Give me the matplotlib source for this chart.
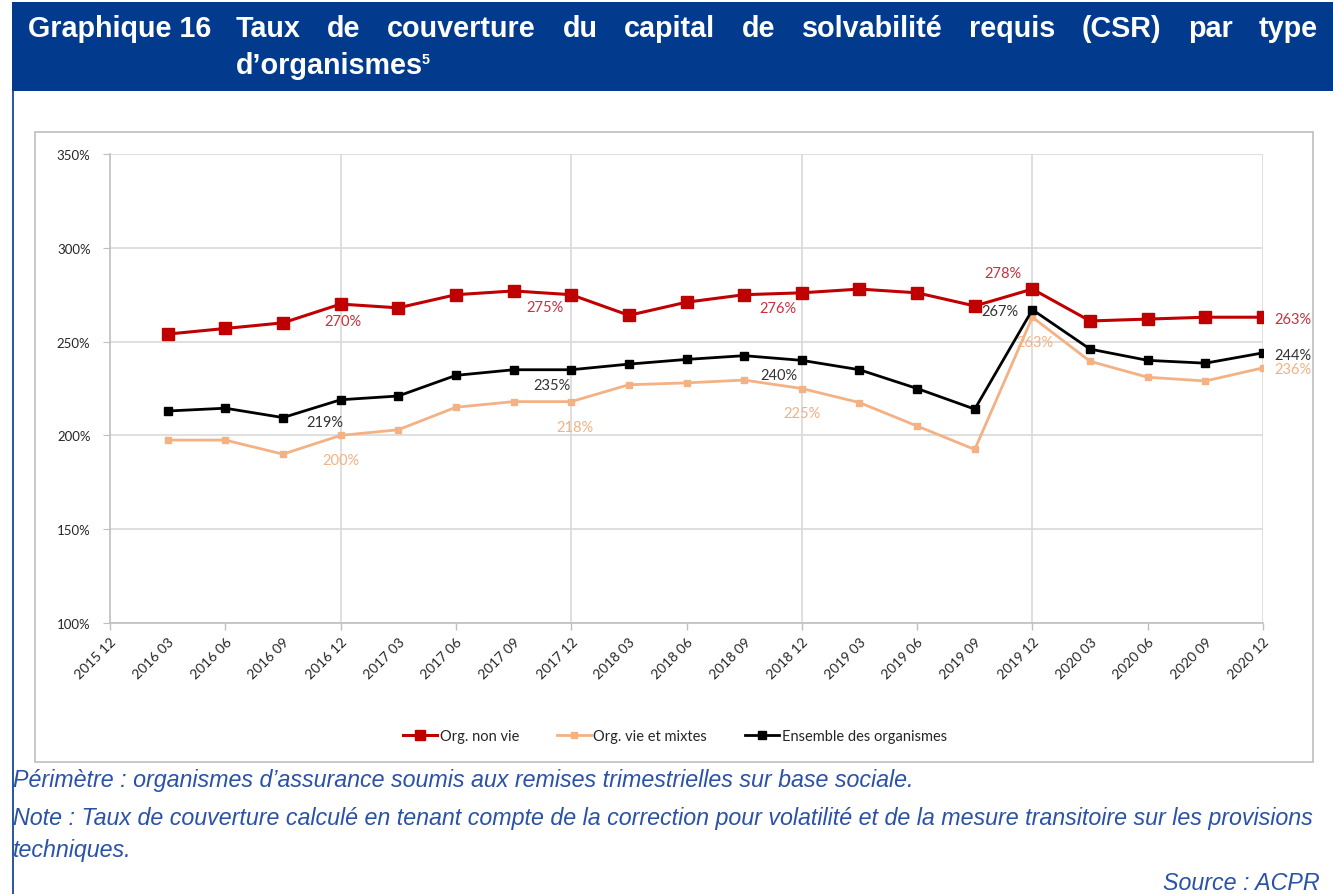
import numpy as np
import matplotlib
matplotlib.use("Agg")
import matplotlib.pyplot as plt
from matplotlib.patches import Rectangle
from matplotlib.lines import Line2D

# ---------------- data ----------------
categories = ["2015 12", "2016 03", "2016 06", "2016 09", "2016 12",
              "2017 03", "2017 06", "2017 09", "2017 12",
              "2018 03", "2018 06", "2018 09", "2018 12",
              "2019 03", "2019 06", "2019 09", "2019 12",
              "2020 03", "2020 06", "2020 09", "2020 12"]
non_vie = [np.nan, 254, 257, 260, 270, 268, 275, 277, 275, 264, 271, 275,
           276, 278, 276, 269, 278, 261, 262, 263, 263]
vie_mixtes = [np.nan, 197.5, 197.5, 190, 200, 203, 215, 218, 218, 227, 228,
              229.5, 225, 217.5, 205, 192.5, 263, 239.5, 231, 229, 236]
ensemble = [np.nan, 213, 214.5, 209.5, 219, 221, 232, 235, 235, 238, 240.5,
            242.5, 240, 235, 225, 214, 267, 246, 240, 238.5, 244]
series_names = ["Org. non vie", "Org. vie et mixtes", "Ensemble des organismes"]
y_ticks = [100, 150, 200, 250, 300, 350]
labelled_idx = [4, 8, 12, 16, 20]

title_left = "Graphique 16"
title_line1 = "Taux de couverture du capital de solvabilité requis (CSR) par type"
title_line2 = "d\u2019organismes"
footnote_mark = "5"
notes = ["Périmètre : organismes d\u2019assurance soumis aux remises trimestrielles sur base sociale.",
         "Note : Taux de couverture calculé en tenant compte de la correction pour volatilité et de la mesure transitoire sur les provisions",
         "techniques."]
source = "Source : ACPR"

# ---------------- style ----------------
W, H = 1333, 895
RED = "#c00000"
ORANGE = "#f4b183"
BLACK = "#000000"
BLUE_HEAD = "#023a8e"
BLUE_TXT = "#2a52a8"
GRID = "#d9d9d9"
CHART_FONT = ["Lato", "DejaVu Sans"]

fig = plt.figure(figsize=(W / 100, H / 100), dpi=100)
fig.patch.set_facecolor("white")

def fx(px):
    return px / W

def fy(py):
    return 1 - py / H

# header band
fig.patches.append(Rectangle((fx(12), fy(92)), fx(W - 12), 89 / H,
                             transform=fig.transFigure, facecolor=BLUE_HEAD,
                             edgecolor="none", zorder=-2))
# outer left border
fig.add_artist(Line2D([fx(12.5), fx(12.5)], [fy(92), 0], transform=fig.transFigure,
                      color=BLUE_HEAD, lw=1.2, zorder=-2))
# chart frame
fig.patches.append(Rectangle((fx(35), fy(763)), fx(1313 - 35), (763 - 133) / H,
                             transform=fig.transFigure, facecolor="white",
                             edgecolor="#bfbfbf", lw=1.2, zorder=-2))

# ---------------- axes ----------------
ax = fig.add_axes([fx(110), fy(624), fx(1263 - 110), (624 - 155) / H])
ax.set_zorder(2)
ax.set_facecolor("none")
x = np.arange(len(categories))

ax.set_xlim(0, len(categories) - 1)
ax.set_ylim(y_ticks[0], y_ticks[-1])
ax.set_yticks(y_ticks)
ax.set_yticklabels([f"{v}%" for v in y_ticks])
ax.set_xticks(x)
ax.set_xticklabels(categories, rotation=45, ha="right", rotation_mode="anchor")
ax.xaxis.remove_overlapping_locs = False
ax.set_xticks(x[::2], minor=True)
ax.tick_params(axis="x", which="major", length=0, pad=9, labelsize=10,
               labelcolor="#262626")
ax.tick_params(axis="x", which="minor", length=5, color="#bfbfbf", width=1)
ax.tick_params(axis="y", length=5, color="#bfbfbf", labelsize=9.5, labelcolor="#262626", pad=9)
for lab in ax.get_xticklabels() + ax.get_yticklabels():
    lab.set_family(CHART_FONT)

for s in ["top", "right"]:
    ax.spines[s].set_visible(False)
for s in ["left", "bottom"]:
    ax.spines[s].set_color("#bfbfbf")
    ax.spines[s].set_linewidth(1.2)

ax.grid(axis="y", color=GRID, lw=1.2, zorder=0)
ax.set_axisbelow(True)
ax.vlines(x[4::4], y_ticks[0], y_ticks[-1], color=GRID, lw=1.2, zorder=0.5)

ax.plot(x, non_vie, color=RED, lw=2.2, marker="s", ms=8.5, zorder=3,
        label=series_names[0])
ax.plot(x, vie_mixtes, color=ORANGE, lw=2.0, marker="s", ms=5.0, zorder=2,
        label=series_names[1])
ax.plot(x, ensemble, color=BLACK, lw=2.0, marker="s", ms=5.5, zorder=4,
        label=series_names[2])

# data labels (offsets in pixels)
label_specs = [
    (non_vie, "#c8303e", [(2, -17), (-26, -12), (-24, -15), (-30, 16), (30, -2)]),
    (ensemble, "#333333", [(-16, -22), (-19, -15), (-23, -15), (-33, -1), (30, -2)]),
    (vie_mixtes, "#f4b183", [(0, -25), (4, -25), (0, -24), (2, -25), (30, -1)]),
]
for ser, col, offs in label_specs:
    for i, (dx, dy) in zip(labelled_idx, offs):
        ax.annotate(f"{round(ser[i])}%", (x[i], ser[i]), xytext=(dx, dy),
                    textcoords="offset pixels", ha="center", va="center",
                    fontsize=10.5, color=col, family=CHART_FONT, zorder=1.5,
                    annotation_clip=False)

leg = fig.legend(loc="center", bbox_to_anchor=(fx(675), fy(737)), ncol=3,
                 frameon=False, prop={"family": CHART_FONT, "size": 10.5},
                 handlelength=2.3, columnspacing=2.6, handletextpad=0.2)
leg.legend_handles[0].set_markersize(6.5)
for t in leg.get_texts():
    t.set_color("#262626")

# ---------------- text ----------------
fig.canvas.draw()
r = fig.canvas.get_renderer()

def width(t):
    return t.get_window_extent(r).width

tl = fig.text(fx(28), fy(29), title_left, color="white", fontweight="bold",
              family="Liberation Sans", fontsize=17, va="center", ha="left")
fs_title = 17 * 184 / width(tl)
tl.set_fontsize(fs_title)

words = title_line1.split()
wts = [fig.text(0, fy(29), w, color="white", fontweight="bold", family="Liberation Sans",
                fontsize=fs_title, va="center", ha="left") for w in words]
widths = [width(t) for t in wts]
x0, x1 = 236, 1318
gap = (x1 - x0 - sum(widths)) / (len(words) - 1)
cur = x0
for t, wdt in zip(wts, widths):
    t.set_x(fx(cur))
    cur += wdt + gap

t2 = fig.text(fx(236), fy(66), title_line2, color="white", fontweight="bold",
              family="Liberation Sans", fontsize=fs_title, va="center", ha="left")
fig.text(fx(236 + width(t2) - 1), fy(60), footnote_mark, color="white",
         fontweight="bold", family="Liberation Sans", fontsize=fs_title * 0.5,
         va="center", ha="left")

nt = fig.text(fx(13), fy(819), notes[1], color=BLUE_TXT, style="italic",
              family="Liberation Sans", fontsize=14, va="center", ha="left")
fs_note = 14 * (1320 - 13) / width(nt)
nt.set_fontsize(fs_note)
fig.text(fx(13), fy(781), notes[0], color=BLUE_TXT, style="italic",
         family="Liberation Sans", fontsize=fs_note, va="center", ha="left")
fig.text(fx(13), fy(851), notes[2], color=BLUE_TXT, style="italic",
         family="Liberation Sans", fontsize=fs_note, va="center", ha="left")
fig.text(fx(1320), fy(884), source, color=BLUE_TXT, style="italic",
         family="Liberation Sans", fontsize=fs_note, va="center", ha="right")

fig.savefig("out.png", dpi=100)
